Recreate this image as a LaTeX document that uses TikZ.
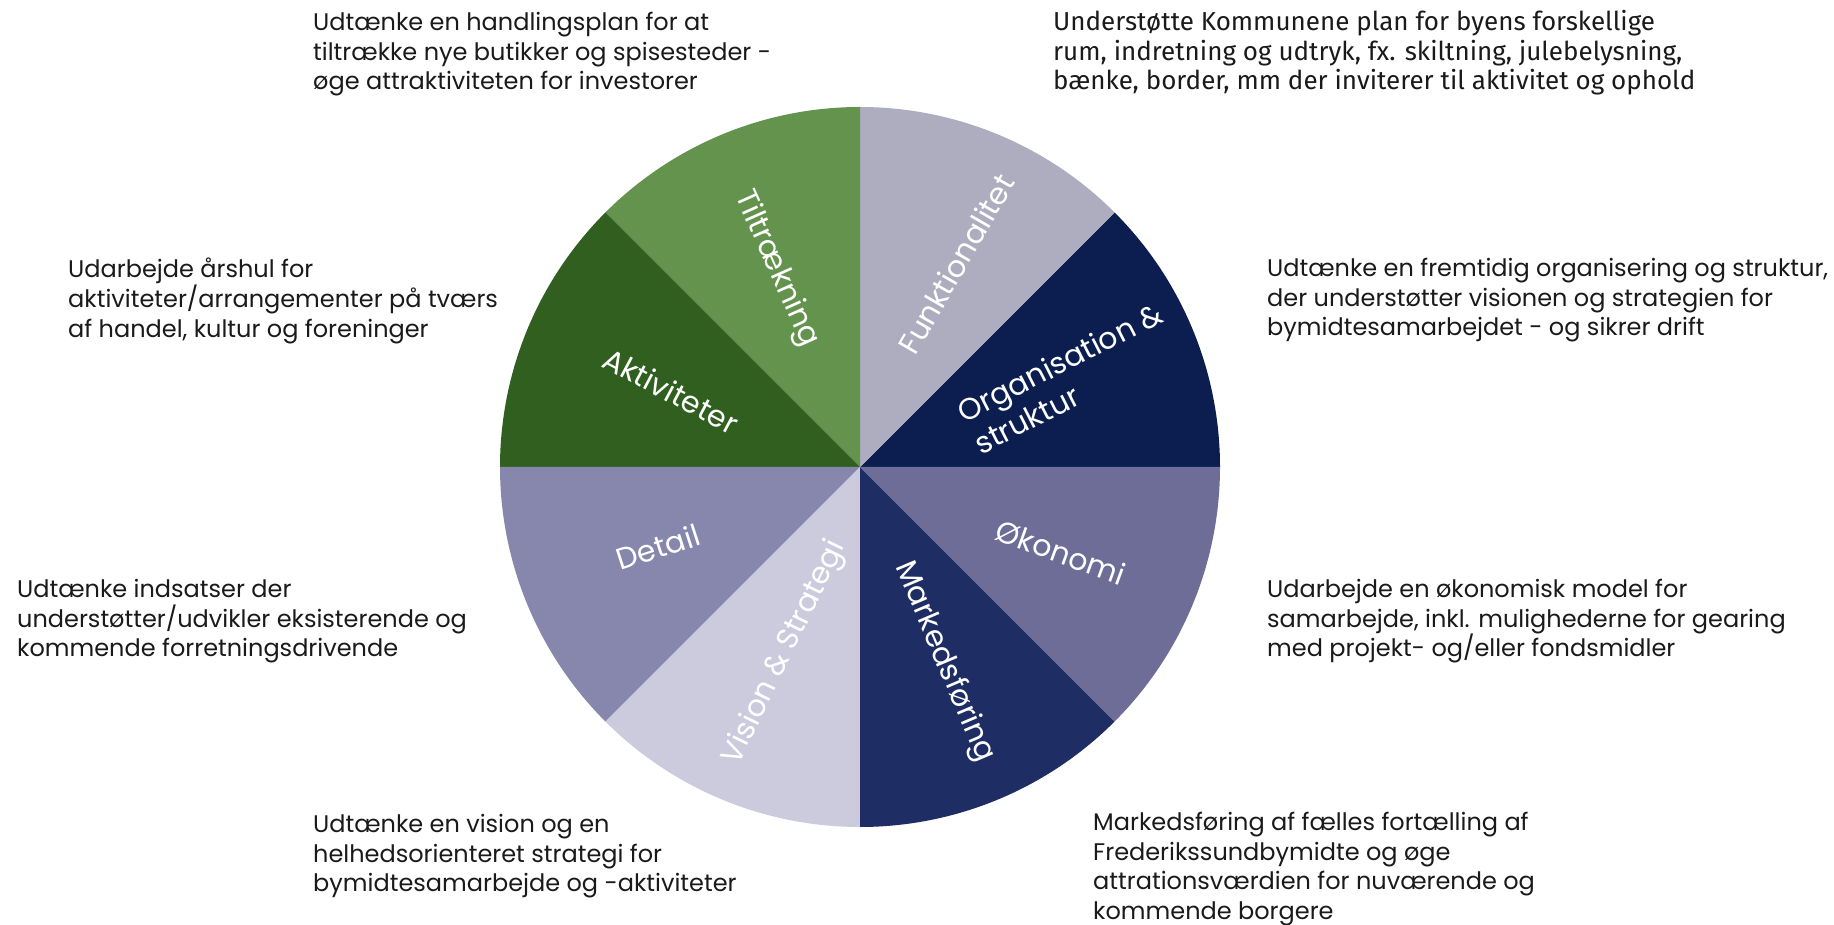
\documentclass[tikz,border=0pt]{standalone}
\usepackage{fontspec}
\setmainfont{Poppins}
\newfontfamily\plexlike{Fira Sans}
\definecolor{cOrg}{RGB}{11,30,79}
\definecolor{cFun}{RGB}{173,173,191}
\definecolor{cTil}{RGB}{100,147,78}
\definecolor{cAkt}{RGB}{48,95,32}
\definecolor{cDet}{RGB}{135,135,173}
\definecolor{cVis}{RGB}{203,203,221}
\definecolor{cMar}{RGB}{30,46,101}
\definecolor{cOko}{RGB}{109,109,152}
\definecolor{cTxt}{RGB}{26,26,26}
\begin{document}
\begin{tikzpicture}[x=1pt,y=1pt,
  body/.style={anchor=north west,inner sep=0pt,align=left,text=cTxt,
    font=\fontsize{24pt}{29.6pt}\selectfont},
  wlabel/.style={inner sep=0pt,text=white,align=left,
    font=\fontsize{30pt}{36pt}\selectfont}]
\useasboundingbox (0,0) rectangle (1834,924);
\fill[white] (0,0) rectangle (1834,924);
\coordinate (c) at (860,457);
% wedges
\foreach \a/\col in {0/cOrg,45/cFun,90/cTil,135/cAkt,180/cDet,225/cVis,270/cMar,315/cOko}{
  \fill[\col] (c) -- ++(\a:360) arc[start angle=\a, end angle=\a+45, radius=360] -- cycle;
}
% wedge labels
\node[wlabel,rotate=-66] (lTil) at (776,655) {Tiltrækning};
\node[wlabel,rotate=-28] (lAkt) at (671,533) {Aktiviteter};
\node[wlabel,rotate=60] (lFun) at (956,660) {Funktionalitet};
\node[wlabel,rotate=27] (lOrg) at (1068,546) {Organisation \&\\struktur};
\node[wlabel,rotate=-20] (lOko) at (1061,372) {Økonomi};
\node[wlabel,rotate=-67] (lMar) at (944,262) {Markedsføring};
\node[wlabel,rotate=64] (lVis) at (785,271) {Vision \& Strategi};
\node[wlabel,rotate=18] (lDet) at (658,377) {Detail};
% descriptions
\node[body] (tTil) at (313,912) {Udtænke en handlingsplan for at\\tiltrække nye butikker og spisesteder -\\øge attraktiviteten for investorer};
\node[body,font=\plexlike\fontsize{26pt}{29.6pt}\selectfont] (tFun) at (1053,914) {Understøtte Kommunene plan for byens forskellige\\rum, indretning og udtryk, fx. skiltning, julebelysning,\\bænke, border, mm der inviterer til aktivitet og ophold};
\node[body] (tAkt) at (68,666) {Udarbejde årshul for\\aktiviteter/arrangementer på tværs\\af handel, kultur og foreninger};
\node[body] (tOrg) at (1267,666) {Udtænke en fremtidig organisering og struktur,\\der understøtter visionen og strategien for\\bymidtesamarbejdet - og sikrer drift};
\node[body] (tDet) at (17,345) {Udtænke indsatser der\\understøtter/udvikler eksisterende og\\kommende forretningsdrivende};
\node[body] (tOko) at (1267,345) {Udarbejde en økonomisk model for\\samarbejde, inkl. mulighederne for gearing\\med projekt- og/eller fondsmidler};
\node[body] (tVis) at (313,110) {Udtænke en vision og en\\helhedsorienteret strategi for\\bymidtesamarbejde og -aktiviteter};
\node[body] (tMar) at (1093,112) {Markedsføring af fælles fortælling af\\Frederikssundbymidte og øge\\attrationsværdien for nuværende og\\kommende borgere};
\end{tikzpicture}
\end{document}
